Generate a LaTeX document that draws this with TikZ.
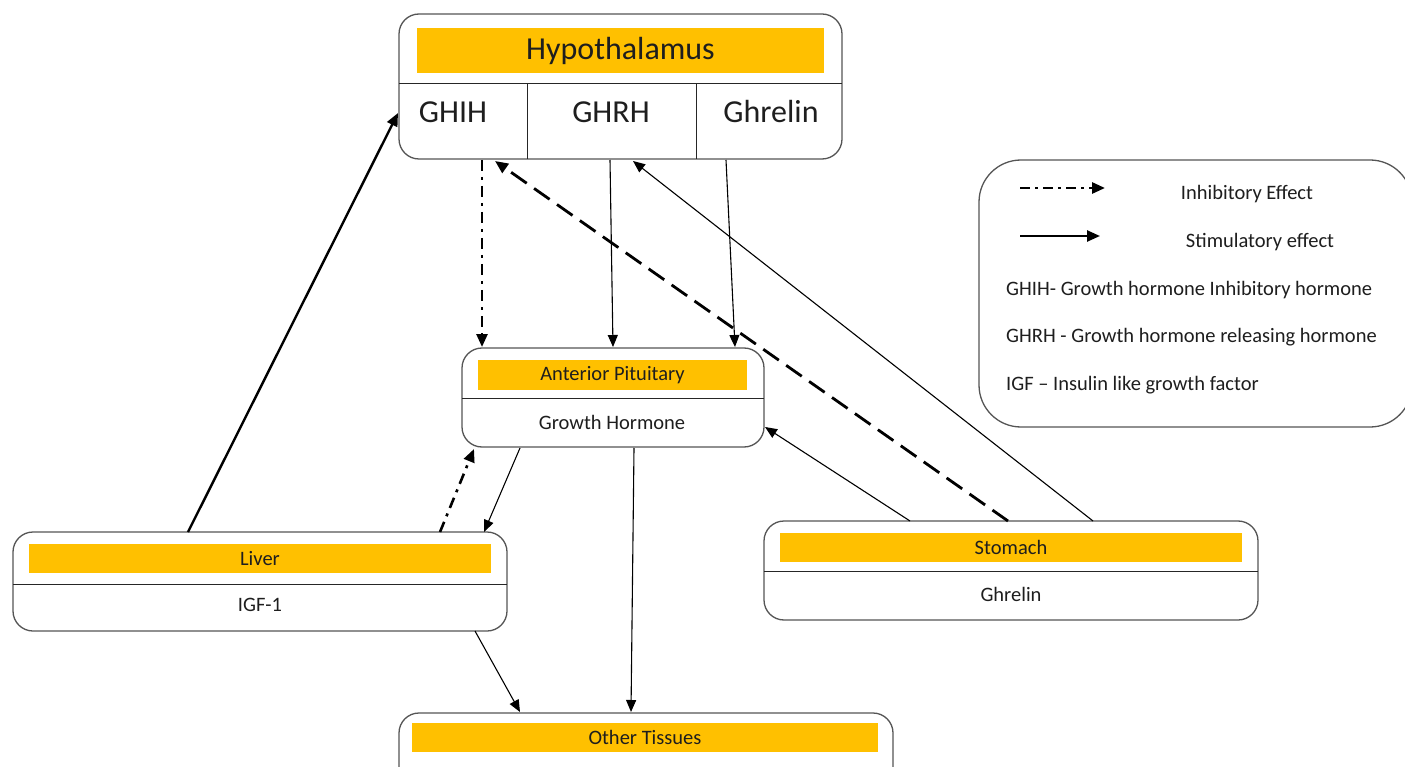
\documentclass[tikz,border=0pt]{standalone}
\usepackage{fontspec}
\setmainfont{Carlito}
\usetikzlibrary{arrows.meta}
\definecolor{barc}{HTML}{FFC000}
\definecolor{edgec}{HTML}{555555}
\definecolor{txtc}{HTML}{1E1E1E}
\begin{document}
\begin{tikzpicture}[x=1pt,y=-1pt,
  box/.style={draw=edgec,line width=1.3pt,rounded corners=20pt,inner sep=0pt,fill=white},
  barbox/.style={fill=barc,inner sep=0pt,text=txtc},
  big/.style={font=\fontsize{32}{38}\selectfont,text=txtc,inner sep=0pt},
  small/.style={font=\fontsize{20.5}{24}\selectfont,text=txtc,inner sep=0pt},
  divider/.style={line width=1pt,draw=black!85},
  thinarrow/.style={line width=1.1pt,-{Triangle[length=12pt,width=10pt]}},
  thickarrow/.style={line width=2.4pt,-{Triangle[length=13pt,width=11pt]}},
  dashdotline/.style={dash pattern=on 11pt off 6pt on 3pt off 6pt,line width=2.6pt},
  dashline/.style={dash pattern=on 19pt off 9pt,line width=2.8pt}
]
\useasboundingbox (0,0) rectangle (1405,767);
\fill[white] (0,0) rectangle (1405,767);

% Hypothalamus
\node[box,minimum width=443pt,minimum height=145pt] (hyp) at (620.5,86.5) {};
\node[barbox,big,minimum width=407pt,minimum height=45pt] (hypbar) at (620.5,50.5) {Hypothalamus};
\draw[divider] (399,84) -- (842,84);
\draw[divider] (527,84) -- (527,159);
\draw[divider] (696,84) -- (696,159);
\node[big] (ghih) at (453,112) {GHIH};
\node[big] (ghrh) at (611,112) {GHRH};
\node[big] (ghrelinh) at (771,112) {Ghrelin};

% Anterior pituitary
\node[box,minimum width=302pt,minimum height=99pt] (ap) at (613,397.5) {};
\node[barbox,small,minimum width=269pt,minimum height=30pt] (apbar) at (612.5,375) {Anterior Pituitary};
\draw[divider] (462,398) -- (764,398);
\node[small] (gh) at (612,422) {Growth Hormone};

% Liver
\node[box,minimum width=494pt,minimum height=99pt] (liver) at (260,581.5) {};
\node[barbox,small,minimum width=462pt,minimum height=29pt] (liverbar) at (260,558.5) {Liver};
\draw[divider] (13,584) -- (507,584);
\node[small] (igf) at (260,605) {IGF-1};

% Stomach
\node[box,minimum width=494pt,minimum height=99pt] (stom) at (1011,570.5) {};
\node[barbox,small,minimum width=462pt,minimum height=29pt] (stombar) at (1011,547.5) {Stomach};
\draw[divider] (764,571) -- (1258,571);
\node[small] (ghrelins) at (1011,594) {Ghrelin};

% Other tissues
\node[box,minimum width=494pt,minimum height=99pt] (other) at (646,762.5) {};
\node[barbox,small,minimum width=466pt,minimum height=29pt] (otherbar) at (645,737.5) {Other Tissues};

% Legend
\node[box,rounded corners=42pt,minimum width=433pt,minimum height=267pt] (legend) at (1195.5,293.5) {};
\coordinate (la1) at (1020,188);
\coordinate (la2) at (1105,188);
\coordinate (lb1) at (1020,236);
\coordinate (lb2) at (1100,236);
\draw[line width=2.8pt,dash pattern=on 10pt off 5pt on 3pt off 5pt,-{Triangle[length=13pt,width=11pt]}] (la1) -- (la2);
\draw[line width=2.4pt,-{Triangle[length=13pt,width=11pt]}] (lb1) -- (lb2);
\node[small] (linh) at (1247,194) {Inhibitory Effect};
\node[small] (lstim) at (1260,242) {Stimulatory effect};
\node[small,anchor=west] (lghih) at (1006,290) {GHIH- Growth hormone Inhibitory hormone};
\node[small,anchor=west] (lghrh) at (1006,337) {GHRH - Growth hormone releasing hormone};
\node[small,anchor=west] (ligf) at (1006,385) {IGF – Insulin like growth factor};

% connector endpoints
\coordinate (c1a) at (188,532);  \coordinate (c1b) at (398,113);
\coordinate (c2a) at (482,160);  \coordinate (c2b) at (482,347);
\coordinate (c3a) at (610,160);  \coordinate (c3b) at (613,347);
\coordinate (c4a) at (726,160);  \coordinate (c4b) at (735,347);
\coordinate (c5a) at (1008,521); \coordinate (c5b) at (495,161);
\coordinate (c6a) at (1093,521); \coordinate (c6b) at (633,161);
\coordinate (c7a) at (910,521);  \coordinate (c7b) at (765,427);
\coordinate (c8a) at (520,448);  \coordinate (c8b) at (484,532);
\coordinate (c9a) at (440,532);  \coordinate (c9b) at (474,449);
\coordinate (c10a) at (634,448); \coordinate (c10b) at (631,712);
\coordinate (c11a) at (475,631); \coordinate (c11b) at (520,712);

\draw[thickarrow] (c1a) -- (c1b);
\draw[thickarrow,dashdotline] (c2a) -- (c2b);
\draw[thinarrow] (c3a) -- (c3b);
\draw[thinarrow] (c4a) -- (c4b);
\draw[thickarrow,dashline] (c5a) -- (c5b);
\draw[thinarrow] (c6a) -- (c6b);
\draw[thinarrow] (c7a) -- (c7b);
\draw[thinarrow] (c8a) -- (c8b);
\draw[thickarrow,dashdotline] (c9a) -- (c9b);
\draw[thinarrow] (c10a) -- (c10b);
\draw[thinarrow] (c11a) -- (c11b);
\end{tikzpicture}
\end{document}
